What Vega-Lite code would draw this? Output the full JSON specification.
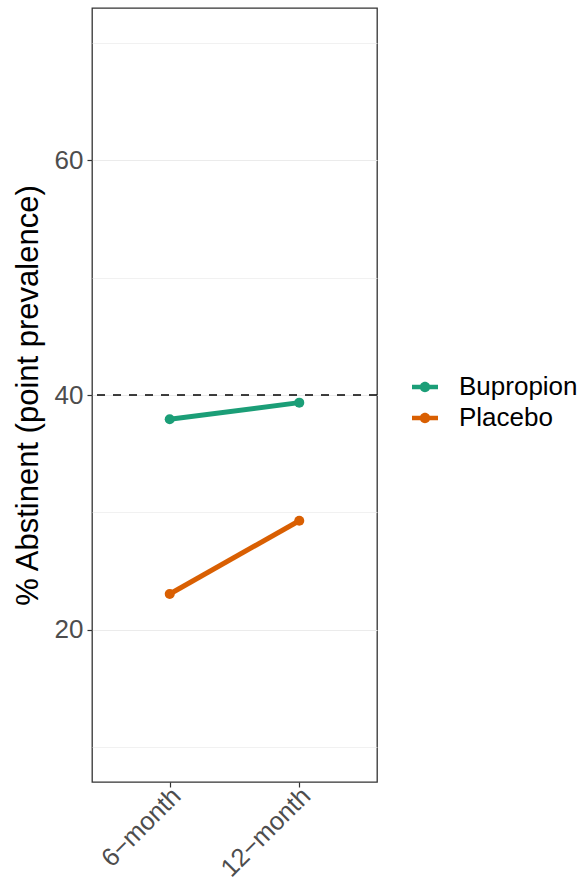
{
  "$schema": "https://vega.github.io/schema/vega-lite/v6.json",
  "width": 285,
  "height": 774,
  "autosize": {"type": "none"},
  "padding": {"left": 92, "top": 8, "right": 207, "bottom": 96},
  "background": "white",
  "config": {
    "font": "Liberation Sans",
    "view": {"stroke": "#333333", "strokeWidth": 1.3},
    "axis": {"domain": false}
  },
  "data": {
    "values": [
      {"time": "6−month", "group": "Bupropion", "pct": 37.93},
      {"time": "12−month", "group": "Bupropion", "pct": 39.35},
      {"time": "6−month", "group": "Placebo", "pct": 23.06},
      {"time": "12−month", "group": "Placebo", "pct": 29.3}
    ]
  },
  "layer": [
    {
      "mark": {"type": "line", "strokeWidth": 5},
      "encoding": {
        "x": {
          "field": "time",
          "type": "ordinal",
          "sort": ["6−month", "12−month"],
          "scale": {"type": "point", "padding": 0.6},
          "axis": {
            "title": null,
            "grid": false,
            "labelAngle": -45,
            "labelAlign": "right",
            "labelBaseline": "top",
            "labelFontSize": 25.5,
            "labelColor": "#4d4d4d",
            "labelPadding": -4,
            "labelOffset": -2,
            "tickSize": 5,
            "tickWidth": 1.2,
            "tickColor": "#333333"
          }
        },
        "y": {
          "field": "pct",
          "type": "quantitative",
          "scale": {"domain": [7.06, 72.94], "nice": false, "zero": false},
          "axis": {
            "title": "% Abstinent (point prevalence)",
            "titleFontSize": 31,
            "titleFontWeight": "normal",
            "titleColor": "black",
            "titlePadding": 10,
            "values": [10, 20, 30, 40, 50, 60, 70],
            "labelExpr": "datum.value % 20 == 0 ? datum.label : ''",
            "labelFontSize": 26,
            "labelColor": "#4d4d4d",
            "labelPadding": 4,
            "tickSize": 5,
            "tickWidth": 1.2,
            "tickColor": "#333333",
            "tickOpacity": {"condition": {"test": "datum.value % 20 != 0", "value": 0}, "value": 1},
            "grid": true,
            "gridColor": "#ebebeb",
            "gridWidth": {"condition": {"test": "datum.value % 20 != 0", "value": 0.7}, "value": 1.2}
          }
        },
        "color": {
          "field": "group",
          "type": "nominal",
          "scale": {"domain": ["Bupropion", "Placebo"], "range": ["#1b9e77", "#d95f02"]},
          "legend": {
            "title": null,
            "orient": "none",
            "legendX": 320,
            "legendY": 366,
            "labelFontSize": 26,
            "labelColor": "black",
            "labelOffset": 21,
            "rowPadding": 5,
            "symbolType": "M-1,-0.17H1V0.17H-1Z M0.4,0A0.4,0.4 0 1,1 -0.4,0A0.4,0.4 0 1,1 0.4,0Z",
            "symbolSize": 676,
            "symbolStrokeWidth": 0
          }
        }
      }
    },
    {
      "mark": {"type": "point", "filled": true, "opacity": 1, "size": 100},
      "encoding": {
        "x": {"field": "time", "type": "ordinal", "sort": ["6−month", "12−month"]},
        "y": {"field": "pct", "type": "quantitative"},
        "color": {"field": "group", "type": "nominal"}
      }
    },
    {
      "data": {"values": [{"ref": 40}]},
      "mark": {"type": "rule", "color": "black", "strokeWidth": 1.4, "strokeDash": [8, 8]},
      "encoding": {"y": {"field": "ref", "type": "quantitative"}}
    }
  ]
}
